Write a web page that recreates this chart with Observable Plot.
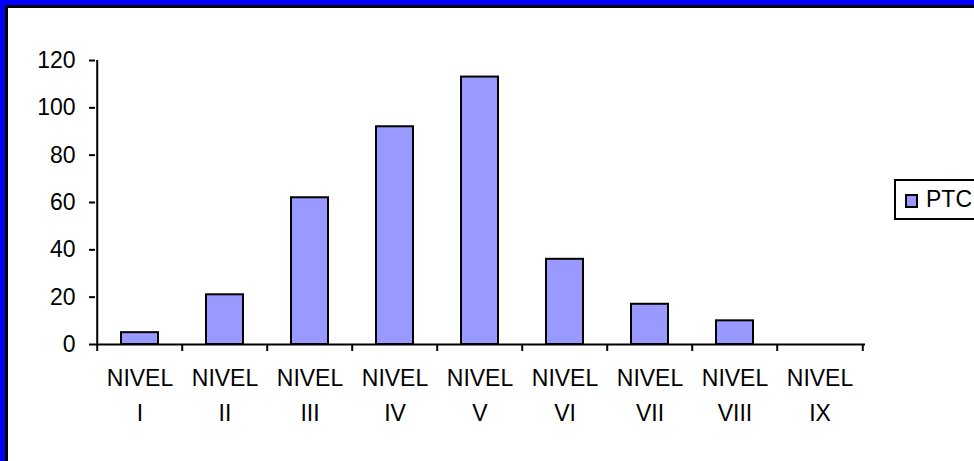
<!DOCTYPE html>
<html><head><meta charset="utf-8">
<script src="https://cdn.jsdelivr.net/npm/d3@7"></script>
<script src="https://cdn.jsdelivr.net/npm/@observablehq/plot@0.6"></script>
<style>
body{margin:0;background:#fff;}
#wrap{position:relative;width:974px;height:461px;overflow:hidden;background:#fff;font-family:"Liberation Sans Narrow","Arial Narrow","Liberation Sans",Arial,sans-serif;color:#000;}
.b{position:absolute;}
#legend{position:absolute;left:894px;top:179px;width:100px;height:37px;border:2px solid #000;background:#fff;}
#sw{position:absolute;left:9px;top:13px;width:9px;height:10px;border:2px solid #000;background:#9999FF;}
#lt{position:absolute;left:30px;top:0;height:37px;line-height:37px;font-size:23px;}
</style></head><body>
<div id="wrap"></div>
<script>
const categories = ["NIVEL\nI","NIVEL\nII","NIVEL\nIII","NIVEL\nIV","NIVEL\nV","NIVEL\nVI","NIVEL\nVII","NIVEL\nVIII","NIVEL\nIX"];
const ptc = [5,21,62,92,113,36,17,10,0];
const yTicks = [0,20,40,60,80,100,120];
const seriesName = "PTC";
const barColor = "#9999FF";

const data = categories.map((c,i)=>({nivel:c, ptc:ptc[i]}));
const W = 974, H = 461, mL = 95, mR = 109, mT = 60, mB = 117;
const step = (W - mL - mR) / categories.length;
const font = '"Liberation Sans Narrow","Arial Narrow","Liberation Sans",Arial,sans-serif';

const chart = Plot.plot({
  width: W, height: H,
  marginLeft: mL, marginRight: mR, marginTop: mT, marginBottom: mB,
  style: {fontFamily: font, fontSize: "23px", color: "#000", background: "transparent", overflow: "visible"},
  x: {domain: categories, paddingInner: 0.56, paddingOuter: 0.28, label: null},
  y: {domain: [0,120], label: null},
  marks: [
    Plot.barY(data, {x: "nivel", y: "ptc", fill: barColor, stroke: "#000", strokeWidth: 2}),
    Plot.ruleY([0], {stroke: "#000", strokeWidth: 2}),
    Plot.ruleX([categories[0]], {dx: -step/2, y1: 0, y2: 120, stroke: "#000", strokeWidth: 2}),
    Plot.axisY({ticks: yTicks, tickSize: 6, tickPadding: 14, strokeWidth: 2, fontSize: 23, label: null}),
    Plot.axisX({tickSize: 0, tickPadding: 17, lineHeight: 1.52, fontSize: 23, letterSpacing: "1.5px", label: null}),
    Plot.axisX({tickSize: 7, dx: -step/2, strokeWidth: 2, tickFormat: () => "", label: null}),
    Plot.axisX({ticks: [categories[categories.length-1]], tickSize: 7, dx: step/2, strokeWidth: 2, tickFormat: () => "", label: null})
  ]
});

const wrap = document.getElementById("wrap");
chart.style.position = "absolute";
chart.style.left = "0px";
chart.style.top = "0px";
wrap.appendChild(chart);

const legend = document.createElement("div");
legend.id = "legend";
legend.innerHTML = '<div id="sw"></div><div id="lt"></div>';
legend.querySelector("#lt").textContent = seriesName;
legend.querySelector("#sw").style.background = barColor;
wrap.appendChild(legend);

[["0px","0px","974px","5px","#0000FF"],["5px","5px","969px","3px","#000"],
 ["0px","0px","5px","461px","#0000FF"],["5px","5px","3px","456px","#000"]].forEach(([l,t,w,h,c])=>{
  const d = document.createElement("div");
  d.className = "b";
  Object.assign(d.style, {left:l, top:t, width:w, height:h, background:c});
  wrap.appendChild(d);
});
</script>
</body></html>
